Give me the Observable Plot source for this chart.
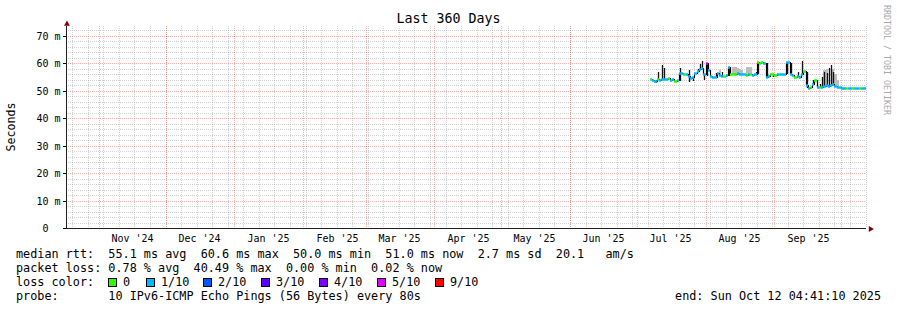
<!DOCTYPE html>
<html><head><meta charset="utf-8">
<script src="https://cdn.jsdelivr.net/npm/d3@7"></script>
<script src="https://cdn.jsdelivr.net/npm/@observablehq/plot@0.6"></script>
<style>
body{margin:0;background:#fff;}
#wrap{position:relative;width:897px;height:310px;overflow:hidden;font-family:"DejaVu Sans Mono",monospace;color:#000;background:#fff;}
#chart{position:absolute;left:0;top:0;}
.t{position:absolute;white-space:pre;}
.row{position:absolute;left:16px;white-space:pre;font-size:11.8px;line-height:14px;height:14px;}
.sq{position:absolute;width:9px;height:9px;box-sizing:border-box;border:1px solid #000;}
.lb{position:absolute;white-space:pre;font-size:11.8px;line-height:14px;}
</style></head><body>
<div id="wrap">
  <div id="chart"></div>
  <div class="t" style="left:0;width:897px;text-align:center;top:11px;font-size:13.3px;line-height:16px;">Last 360 Days</div>
  <div class="t" style="left:-39px;top:120px;width:100px;height:14px;line-height:14px;text-align:center;font-size:11.6px;transform:rotate(-90deg);">Seconds</div>
  <div class="t" style="left:827px;top:54px;width:120px;height:12px;line-height:12px;text-align:center;font-size:8.3px;color:#a8a8a8;transform:rotate(90deg);">RRDTOOL / TOBI OETIKER</div>
  <div id="legend"></div>
</div>
<script>
// ---- data ----
const title = "Last 360 Days";
const xStart = new Date(Date.UTC(2024, 9, 17, 4, 41, 10));
const xEnd = new Date(Date.UTC(2025, 9, 12, 4, 41, 10));
const firstDay = new Date(Date.UTC(2025, 6, 7));

// daily median RTT (ms), Jul 7 .. Oct 11 2025
const medianMs = [
  // Jul 7-31
  54.3, 54.0, 53.4, 54.2, 54.0, 54.4, 54.3, 54.2, 54.5, 54.0, 54.3, 53.6, 54.0,
  56.4, 56.4, 56.0, 56.2, 55.4, 54.6, 55.0, 56.6, 57.2, 58.0, 58.2, 56.0,
  // Aug 1-31
  60.0, 57.6, 55.3, 55.0, 54.9, 56.4, 55.7, 55.5, 55.2, 55.8, 58.6, 56.1, 56.2, 56.0, 56.3, 56.0,
  56.2, 56.0, 55.8, 56.2, 56.0, 55.8, 56.0, 60.6, 60.3, 60.4, 60.0, 55.0, 55.3, 56.0, 56.0,
  // Sep 1-30
  55.6, 56.0, 56.0, 56.0, 56.0, 60.4, 60.4, 56.0, 55.6, 55.0, 55.5, 55.0, 56.0, 57.2, 52.0,
  51.0, 51.5, 52.5, 54.0, 51.4, 51.5, 51.5, 51.6, 52.0, 51.8, 52.0, 52.5, 51.6, 51.5, 51.2,
  // Oct 1-11
  51.1, 51.1, 51.0, 51.1, 51.1, 51.0, 51.1, 51.1, 51.0, 51.1, 51.1
];
// loss level (x/10 pings lost) per day
const lossLevel = [
  0,1,1,0,1,1,1,1,0,1,1,0,1, 1,1,0,1,1,1,1,1,1,1,1,1,
  5,1,1,1,1,1,1,1,0,1,1,0,0,0,1,1, 1,1,0,1,0,1,1,0,0,0,1,1,1,0,0,
  0,1,1,1,1,1,1,1,1,0,1,1,1,0,1, 1,0,1,0,1,0,1,1,1,1,1,1,1,1,1,
  1,1,0,1,1,0,1,1,0,1,1
];
const lossColors = ["#26ff00", "#00b8ff", "#0059ff", "#5e00ff", "#7e00ff", "#dd00ff", "#dd00ff", "#ff0000", "#ff0000", "#ff0000"];
const lossLabels = ["0", "1/10", "2/10", "3/10", "4/10", "5/10", "9/10"];
const lossLegendColors = ["#26ff00", "#00b8ff", "#0059ff", "#5e00ff", "#7e00ff", "#dd00ff", "#ff0000"];

// dark smoke (spread of pings) per day
const darkSmokeDays = ["2025-07-09","2025-07-10","2025-07-12","2025-07-13","2025-07-20","2025-07-24","2025-07-26","2025-07-28","2025-07-29","2025-07-30","2025-07-31",
  "2025-08-01","2025-08-05","2025-08-08","2025-08-11","2025-08-23","2025-08-24","2025-08-28","2025-08-31",
  "2025-09-06","2025-09-08","2025-09-11","2025-09-13","2025-09-15","2025-09-18","2025-09-21","2025-09-22","2025-09-23","2025-09-24","2025-09-25","2025-09-26","2025-09-27"];
const darkSmokeLow = [52.7,54.2,54.4,54.3,53.4,53.3,53.6,57.2,58.0,58.2,54.0, 55.5,54.9,55.5,55.5,56.0,56.0,55.0,55.0, 56.0,56.0,55.5,56.0,50.9,52.5,51.5,51.5,51.6,52.0,51.8,52.0,52.5];
const darkSmokeHigh = [54.0,57.0,59.4,58.3,58.2,57.6,55.0,58.0,59.6,61.0,56.0, 60.0,56.5,56.8,58.6,57.0,60.6,60.0,56.0, 60.4,60.0,57.0,60.9,57.0,54.0,52.5,55.0,56.8,56.5,58.2,59.4,57.0];
// light smoke tops
const graySmokeDays = ["2025-08-07","2025-08-13","2025-08-14","2025-08-15","2025-08-16","2025-08-17","2025-08-19","2025-08-20","2025-08-21","2025-09-23","2025-09-24","2025-09-27","2025-09-28","2025-09-29"];
const graySmokeHigh = [57.6,58.5,58.7,58.4,58.0,57.5,58.5,58.7,58.5,57.5,57.8,58.0,56.0,54.0];

const yMajor = [0, 10, 20, 30, 40, 50, 60, 70];
const yMinor = [2,4,6,8,12,14,16,18,22,24,26,28,32,34,36,38,42,44,46,48,52,54,56,58,62,64,66,68,72];
const monthLabels = ["Nov '24","Dec '24","Jan '25","Feb '25","Mar '25","Apr '25","May '25","Jun '25","Jul '25","Aug '25","Sep '25"];

const legendRows = [
  "median rtt:  55.1 ms avg  60.6 ms max  50.0 ms min  51.0 ms now  2.7 ms sd  20.1   am/s",
  "packet loss: 0.78 % avg  40.49 % max  0.00 % min  0.02 % now",
  "loss color:",
  "probe:       10 IPv6-ICMP Echo Pings (56 Bytes) every 80s"
];
const endText = "end: Sun Oct 12 04:41:10 2025";

// ---- build ----
const days = medianMs.map((m, i) => {
  const date = d3.utcDay.offset(firstDay, i);
  return {date, next: d3.utcDay.offset(date, 1), median: m, loss: lossLevel[i]};
});
const byKey = new Map(days.map(d => [d3.utcFormat("%Y-%m-%d")(d.date), d]));
const dark = darkSmokeDays.map((k, i) => ({date: d3.utcHour.offset(new Date(k + "T00:00:00Z"), 12), lo: darkSmokeLow[i], hi: darkSmokeHigh[i]}));
const gray = graySmokeDays.map((k, i) => {
  const d = byKey.get(k);
  return {x1: d.date, x2: d.next, y1: d.median, y2: graySmokeHigh[i]};
});
const months = d3.utcMonth.range(xStart, xEnd);
const weeks = d3.utcSunday.range(xStart, xEnd);
const monthTicks = months.map((m, i) => ({date: d3.utcDay.offset(m, 15), label: monthLabels[i]})).filter(d => d.label);

const minorStroke = "rgba(140,140,140,0.4)";
const majorStroke = "rgba(255,0,0,0.32)";

const plot = Plot.plot({
  width: 897,
  height: 310,
  marginLeft: 66,
  marginRight: 31,
  marginTop: 26,
  marginBottom: 82,
  style: {background: "transparent", fontFamily: "DejaVu Sans Mono", fontSize: "10px", overflow: "visible"},
  x: {type: "utc", domain: [xStart, xEnd], axis: null, round: true},
  y: {domain: [0, 73.6], round: true, ticks: yMajor, tickSize: 3, tickPadding: 3, label: null,
      tickFormat: d => d === 0 ? "0\u00a0\u00a0" : `${d} m`},
  color: {type: "identity"},
  marks: [
    Plot.ruleY(yMinor, {stroke: minorStroke, strokeDasharray: "1,1"}),
    Plot.ruleX(weeks, {stroke: minorStroke, strokeDasharray: "1,1"}),
    Plot.ruleY(yMajor.filter(d => d > 0), {stroke: majorStroke, strokeDasharray: "1,1"}),
    Plot.ruleX(months, {stroke: majorStroke, strokeDasharray: "1,1"}),
    Plot.rect(gray, {x1: "x1", x2: "x2", y1: "y1", y2: "y2", fill: "#bdbdbd"}),
    Plot.ruleX(dark, {x: "date", y1: "lo", y2: "hi", stroke: "#111", strokeWidth: 1.3}),
    Plot.line(days, {x: "date", y: "median", curve: "step-after", stroke: "#000", strokeWidth: 1.2}),
    Plot.ruleY(days, {y: "median", x1: "date", x2: "next", stroke: d => lossColors[d.loss], strokeWidth: 2.5}),
    Plot.ruleX([xStart], {stroke: "#212121"}),
    Plot.ruleY([0], {stroke: "#212121"}),
    Plot.dot([0], {frameAnchor: "top-left", symbol: "triangle", r: 2.2, fill: "#800000", stroke: "none", dy: -2.5, dx: 0.5}),
    Plot.dot([0], {frameAnchor: "bottom-right", symbol: "triangle", r: 2.2, fill: "#800000", stroke: "none", rotate: 90, dx: 4, dy: 0.5}),
    Plot.text(monthTicks, {x: "date", text: "label", frameAnchor: "bottom", dy: 10, lineAnchor: "middle", fill: "#000"})
  ]
});
document.getElementById("chart").appendChild(plot);

// ---- legend (below the plot area) ----
const legend = document.getElementById("legend");
const rowTops = [247, 261, 275, 289];
legendRows.forEach((txt, i) => {
  const el = document.createElement("div");
  el.className = "row";
  el.style.top = rowTops[i] + "px";
  el.textContent = txt;
  legend.appendChild(el);
});
const sqX = [108, 146, 203, 261, 319, 377, 435];
lossLabels.forEach((lab, i) => {
  const s = document.createElement("div");
  s.className = "sq";
  s.style.left = sqX[i] + "px";
  s.style.top = "277.5px";
  s.style.background = lossLegendColors[i];
  legend.appendChild(s);
  const t = document.createElement("div");
  t.className = "lb";
  t.style.left = (sqX[i] + 15) + "px";
  t.style.top = rowTops[2] + "px";
  t.textContent = lab;
  legend.appendChild(t);
});
const e = document.createElement("div");
e.className = "lb";
e.style.right = (897 - 881) + "px";
e.style.top = rowTops[3] + "px";
e.textContent = endText;
legend.appendChild(e);
</script>
</body></html>
